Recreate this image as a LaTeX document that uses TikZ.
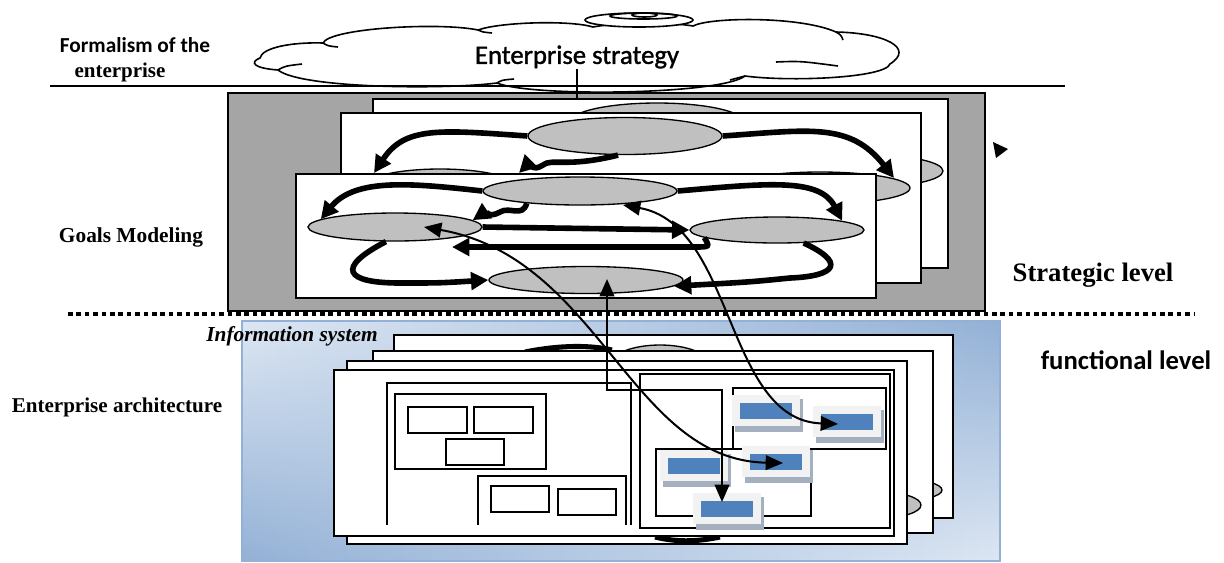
\documentclass[tikz,border=0pt]{standalone}
\usepackage{fontspec}
\setmainfont{Liberation Serif}
\newfontfamily\carlito{Carlito}
\newfontfamily\carlitomed[FakeBold=1.3]{Carlito}
\usetikzlibrary{shapes.geometric,arrows.meta,fadings}
\definecolor{rgray}{HTML}{A5A5A5}
\definecolor{egray}{HTML}{C0C0C0}
\definecolor{bluebox}{HTML}{4F81BD}
\definecolor{framec}{HTML}{F2F2F2}
\definecolor{shadowc}{HTML}{A4AFC0}
\definecolor{bglight}{HTML}{DDE7F3}
\definecolor{bgdark}{HTML}{93B1D6}
\newcommand\bluebx[3]{%
  \fill[shadowc] (#2-31,#3-12) rectangle (#2+37,#3+21);
  \fill[framec] (#2-34,#3-16) rectangle (#2+34,#3+15);
  \node[bbox] (#1) at (#2,#3) {};}
\begin{document}
\begin{tikzpicture}[x=0.75pt,y=-0.75pt,
  panel/.style={draw=black,fill=white,line width=1.5pt},
  goal/.style 2 args={ellipse,draw=black,fill=egray,line width=1pt,minimum width=#1*0.75pt,minimum height=#2*0.75pt,inner sep=0pt},
  fat/.style={line width=4.2pt,-{Triangle[length=13pt,width=13pt]}},
  fatnt/.style={line width=3.8pt},
  conn/.style={line width=1.5pt,{Triangle[length=13pt,width=11pt]}-{Triangle[length=13pt,width=11pt]}},
  bbox/.style={fill=bluebox,minimum width=39pt,minimum height=12pt,inner sep=0pt},
  wbox/.style={draw=black,line width=1.5pt,fill=white},
  oline/.style={draw=black,line width=1.5pt},
  thinl/.style={line width=1.2pt},
  lbl/.style={inner sep=0pt},
]
\useasboundingbox (0,0) rectangle (1224,562);

% ---------- cloud ----------
\draw[fill=white,thinl] (260,58) .. controls (262,48) and (290,42) .. (323,43)
  .. controls (330,28) and (440,22) .. (478,30)
  .. controls (500,22) and (570,20) .. (593,27)
  .. controls (620,22) and (670,22) .. (693,26)
  .. controls (710,17) and (800,16) .. (836,32)
  .. controls (885,33) and (915,48) .. (890,64)
  .. controls (885,78) and (790,82) .. (745,76)
  .. controls (720,95) and (530,97) .. (497,83)
  .. controls (440,90) and (300,88) .. (278,70)
  .. controls (252,68) and (250,62) .. (260,58) -- cycle;
\draw[thinl] (776,62) .. controls (800,61) .. (838,66);
\draw[thinl] (497,83) .. controls (502,80) .. (514,79);
\draw[thinl] (323,43) .. controls (328,46) .. (338,47);
\draw[thinl] (478,30) .. controls (482,32) .. (492,33);
\draw[thinl] (836,32) .. controls (841,35) .. (843,40);
\draw[thinl] (278,70) .. controls (285,66) .. (302,64);
\draw[thinl] (745,76) .. controls (738,78) .. (730,80);
\draw[fill=white,thinl] (639,20) ellipse [x radius=54, y radius=7];
\draw[thinl] (643.5,16) ellipse [x radius=33.5, y radius=3];
\draw[thinl] (644.5,15) ellipse [x radius=12.5, y radius=2];
\node[lbl,font=\carlitomed\fontsize{20}{24}\selectfont] (strat) at (577,57) {Enterprise strategy};
\coordinate (vtop) at (577,69);

% ---------- top line and labels ----------
\coordinate (hl) at (50,86);
\coordinate (hr) at (1065,86);
\draw[thinl] (hl) -- (hr);
\node[lbl,font=\carlito\bfseries\fontsize{16}{19}\selectfont] (formal) at (135,45) {Formalism of the};
\node[lbl,font=\bfseries\fontsize{15.75}{19}\selectfont] (entr) at (120,72) {enterprise};
\node[lbl,font=\bfseries\fontsize{16}{19}\selectfont] (goals) at (131,237) {Goals Modeling};
\node[lbl,font=\bfseries\fontsize{15.8}{19}\selectfont] (earch) at (117,407) {Enterprise architecture};
\node[lbl,font=\bfseries\fontsize{20}{24}\selectfont] (strl) at (1093,275) {Strategic level};
\node[lbl,font=\carlito\bfseries\fontsize{20}{24}\selectfont] (funl) at (1126,360) {functional level};

% ---------- goals modeling ----------
\draw[fill=rgray,line width=1.5pt] (228,93) rectangle (985,311);
\coordinate (vbot) at (577,99);
\draw[thinl] (vtop) -- (vbot);
\fill (993,142) -- (1008,149) -- (996,158) -- cycle;

% back panel
\draw[panel] (373,99) rectangle (948,268);
\node[goal={174}{38}] (t3) at (657,122) {};
\node[goal={146}{32}] (r3) at (870,171) {};

% middle panel
\draw[panel] (341,113) rectangle (921,283);
\node[goal={194}{37}] (t2) at (625,136) {};
\node[goal={150}{34}] (l2) at (440,186) {};
\node[goal={180}{32}] (r2) at (820,188) {};
\coordinate (p2l) at (374,173);
\coordinate (p2r) at (894,178);
\coordinate (p2w) at (519,173);
\draw[fat] (t2.west) .. controls (440,130) and (405,126) .. (p2l);
\draw[fat] (t2.east) .. controls (810,130) and (850,122) .. (p2r);
\draw[fat] (t2.250) .. controls (566,168) and (552,158) .. (543,165) .. controls (533,172) and (528,164) .. (p2w);

% front panel
\draw[panel] (296,174) rectangle (876,298);
\node[goal={194}{28}] (t1) at (580,191) {};
\node[goal={174}{28}] (l1) at (395,227) {};
\node[goal={174}{26}] (r1) at (777,230) {};
\node[goal={194}{27}] (b1) at (586,280) {};
\coordinate (rl) at (452,247);
\draw[fat] (t1.west) .. controls (410,183) and (355,178) .. (l1.174);
\draw[fat] (t1.east) .. controls (770,183) and (820,178) .. (r1.8);
\draw[fat] (t1.193) .. controls (522,218) and (510,206) .. (500,212) .. controls (490,218) and (485,212) .. (l1.5);
\draw[fat] (l1.east) -- (r1.west);
\draw[fat] (r1.186) .. controls (710,247) .. (694,247) -- (rl);
\draw[fat] (l1.238) .. controls (335,268) and (345,283) .. (400,283) .. controls (440,283) .. (b1.west);
\draw[fat] (r1.334) .. controls (845,262) and (838,276) .. (790,278) .. controls (750,282) .. (b1.356);

% dotted separator
\coordinate (dl) at (68,314);
\coordinate (dr) at (1195,314);
\draw[line width=3.4pt,dash pattern=on 3.4pt off 2.9pt] (dl) -- (dr);

% ---------- information system ----------
\shade[left color=bglight,right color=bgdark] (242,321) rectangle (1000,561);
\shade[left color=bgdark,right color=bglight,path fading=north] (242,321) rectangle (1000,561);
\draw[bgdark,line width=0.8pt] (242,321) rectangle (1000,561);
\node[lbl,font=\bfseries\itshape\fontsize{16}{19}\selectfont] (isys) at (292,336) {Information system};

% panel 4
\draw[panel] (394,335) rectangle (953,518);
\node[goal={100}{40}] (t4) at (660,365) {};
\draw[fatnt] (525,352) .. controls (560,345) and (590,345) .. (612,350);
\node[goal={84}{22}] (r4) at (900,490) {};
% panel 3
\draw[panel] (373,351) rectangle (933,533);
\node[goal={82}{26}] (r5) at (880,505) {};
% panel 2
\draw[panel] (347,361) rectangle (907,544);
\draw[fatnt] (655,537) .. controls (680,543) and (700,541) .. (720,537);
% panel 1
\draw[panel] (334,370) rectangle (894,536);

% left container
\draw[oline] (387,525) -- (387,383) -- (631,383) -- (631,525);
\draw[wbox] (395,394) rectangle (546,469);
\draw[wbox] (408,407) rectangle (467,433);
\draw[wbox] (474,407) rectangle (533,433);
\draw[wbox] (446,439) rectangle (504,465);
\draw[oline] (478,525) -- (478,476) -- (626,476) -- (626,525);
\draw[wbox] (491,486) rectangle (549,512);
\draw[wbox] (558,489) rectangle (616,515);

% right container
\draw[oline] (640,374) rectangle (890,528);
\draw[oline] (733,388) rectangle (886,449);
\draw[oline] (656,449) rectangle (811,516);
\bluebx{bA}{766}{411}
\bluebx{bB}{847}{422}
\bluebx{bC}{694}{466}
\bluebx{bD}{776}{462}
\bluebx{bE}{727}{509}

% ---------- connectors between levels ----------
\coordinate (a1s) at (607,279);
\coordinate (a1m) at (722,390);
\coordinate (a1e) at (722,502);
\draw[conn] (a1s) |- (a1m) -- (a1e);
\coordinate (a2s) at (424,227);
\coordinate (a2e) at (783,463);
\draw[conn] (a2s) .. controls (600,258) and (630,460) .. (a2e);
\coordinate (a3s) at (623,205);
\coordinate (a3e) at (838,424);
\draw[conn] (a3s) .. controls (735,225) and (725,420) .. (a3e);
\end{tikzpicture}
\end{document}
